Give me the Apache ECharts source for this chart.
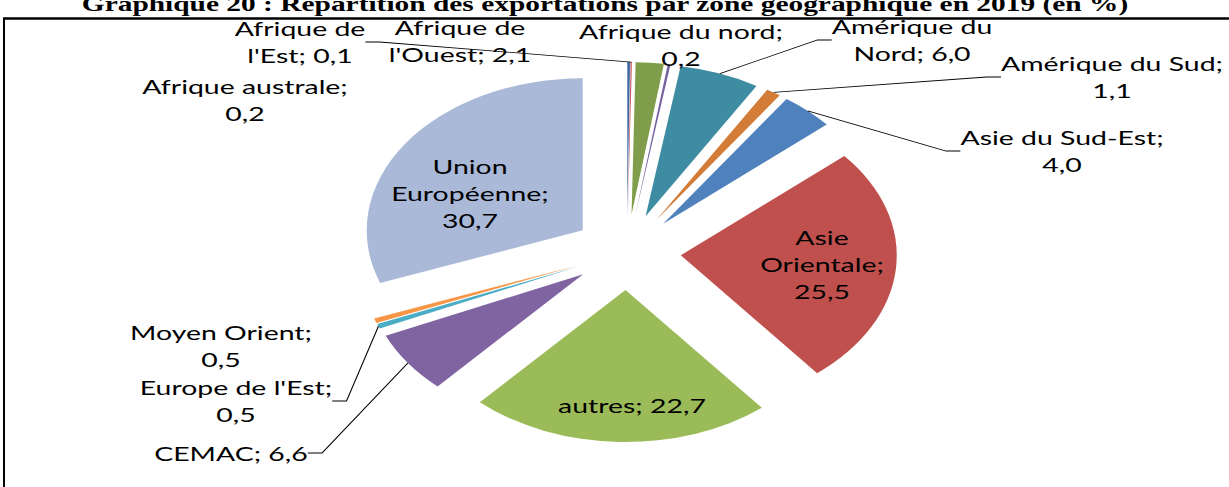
<!DOCTYPE html>
<html>
<head>
<meta charset="utf-8">
<script src="https://cdn.jsdelivr.net/npm/echarts@6/dist/echarts.min.js"></script>
<style>
  html, body { margin: 0; padding: 0; background: #fff; overflow: hidden; }
  /* le graphique d'origine est étiré horizontalement : on reproduit l'étirement */
  #graphique { width: 865px; height: 487px; transform: scaleX(1.4208); transform-origin: 0 0; }
</style>
</head>
<body>
<div id="graphique"></div>
<script>
const ETIREMENT = 1.4208;

// Zones géographiques (ordre du graphique, sens horaire depuis midi)
const zones = [
  'Afrique australe', "Afrique de l'Est", "Afrique de l'Ouest", 'Afrique du nord',
  'Amérique du Nord', 'Amérique du Sud', 'Asie du Sud-Est', 'Asie Orientale',
  'autres', 'CEMAC', "Europe de l'Est", 'Moyen Orient', 'Union Européenne'
];

// Part des exportations (en %)
const parts = [0.2, 0.1, 2.1, 0.2, 6.0, 1.1, 4.0, 25.5, 22.7, 6.6, 0.5, 0.5, 30.7];

const couleurs = [
  '#3F66A3', '#C65A5E', '#7F9D4A', '#7561A0', '#3D8CA2', '#D27C38', '#4F81BD',
  '#C0504D', '#9BBB59', '#8064A2', '#4BACC6', '#F79646', '#A9B9D7'
];

// Texte des étiquettes avec retours à la ligne ({v} = valeur)
const gabarits = [
  'Afrique australe;\n{v}', "Afrique de\nl'Est; {v}", "Afrique de\nl'Ouest; {v}", 'Afrique du nord;\n{v}',
  'Amérique du\nNord; {v}', 'Amérique du Sud;\n{v}', 'Asie du Sud-Est;\n{v}', 'Asie\nOrientale;\n{v}',
  'autres; {v}', 'CEMAC; {v}', "Europe de l'Est;\n{v}", 'Moyen Orient;\n{v}', 'Union\nEuropéenne;\n{v}'
];

// Étiquettes avec trait de rappel
const avecTrait = ["Afrique de l'Est", 'Amérique du Nord', 'Amérique du Sud', 'Asie du Sud-Est', 'CEMAC', "Europe de l'Est"];

// Centre des étiquettes, en pixels de l'image finale
const placesEtiquettes = [
  [245, 100], [300, 42], [460, 41], [681, 45], [912, 40], [1112, 77], [1062, 151],
  [822, 264], [632, 405], [231, 453], [236, 401], [221, 346], [470, 193]
];

const titre = 'Graphique 20 : Répartition des exportations par zone géographique en 2019 (en %)';

const CENTRE = [627 / ETIREMENT, 252];
const RAYON = 152;
const ECART = 38;   // éclatement des secteurs

function enFrancais(v) {
  return v.toFixed(1).replace('.', ',');
}

const graphique = echarts.init(document.getElementById('graphique'), null, { renderer: 'svg' });

graphique.setOption({
  animation: false,
  backgroundColor: '#fff',
  graphic: [
    {
      type: 'text',
      x: 605 / ETIREMENT,
      y: 4,
      style: {
        text: titre,
        font: 'bold 20.7px "Liberation Serif", "DejaVu Serif", serif',
        fill: '#000',
        align: 'center',
        verticalAlign: 'middle'
      }
    },
    {
      type: 'line',
      shape: { x1: 3 / ETIREMENT, y1: 18.5, x2: 865, y2: 18.5 },
      style: { stroke: '#000', lineWidth: 2.5 }
    },
    {
      type: 'line',
      shape: { x1: 4 / ETIREMENT, y1: 18, x2: 4 / ETIREMENT, y2: 487 },
      style: { stroke: '#000', lineWidth: 1.4 }
    }
  ],
  series: [
    {
      // secteurs éclatés
      type: 'pie',
      z: 2,
      center: CENTRE,
      radius: RAYON,
      startAngle: 90,
      clockwise: true,
      selectedMode: 'multiple',
      selectedOffset: ECART,
      silent: true,
      label: { show: false },
      labelLine: { show: false },
      itemStyle: { borderWidth: 0 },
      select: { itemStyle: { borderWidth: 0 } },
      data: zones.map((nom, i) => ({
        name: nom,
        value: parts[i],
        selected: true,
        itemStyle: { color: couleurs[i] }
      }))
    },
    {
      // étiquettes, portées par un anneau transparent au bord des secteurs éclatés
      type: 'pie',
      z: 5,
      center: CENTRE,
      radius: RAYON + ECART,
      startAngle: 90,
      clockwise: true,
      silent: true,
      avoidLabelOverlap: false,
      itemStyle: { color: 'rgba(0,0,0,0)', borderWidth: 0 },
      label: {
        position: 'outside',
        color: '#000',
        fontFamily: 'Lato, "Open Sans", sans-serif',
        fontSize: 20,
        lineHeight: 27,
        align: 'center',
        formatter: p => gabarits[p.dataIndex].replace('{v}', enFrancais(p.value))
      },
      labelLine: {
        length: 12,
        length2: 10,
        lineStyle: { color: '#000', width: 0.8 }
      },
      labelLayout: function (params) {
        const pos = placesEtiquettes[params.dataIndex];
        return { x: pos[0] / ETIREMENT, y: pos[1], align: 'center', verticalAlign: 'middle' };
      },
      data: zones.map((nom, i) => ({
        name: nom,
        value: parts[i],
        labelLine: { show: avecTrait.includes(nom) }
      }))
    }
  ]
});
</script>
</body>
</html>
